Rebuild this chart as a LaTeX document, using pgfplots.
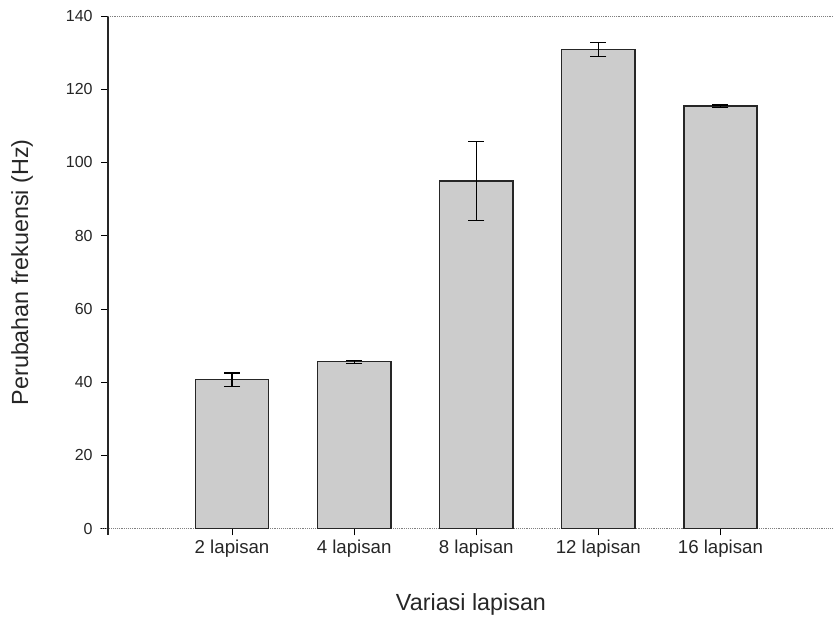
\documentclass[border=0pt]{standalone}
\usepackage{fontspec}
\setmainfont{Liberation Sans}
\usepackage{pgfplots}
\pgfplotsset{compat=1.18}

\pgfplotstableread{
x  y      err
0  40.7   1.8
1  45.6   0.4
2  94.9   10.8
3  130.8  1.9
4  115.4  0.3
}\lapisan

\begin{document}
\begin{tikzpicture}
\useasboundingbox (-81pt,-69.75pt) rectangle (544.5pt,396.5pt);
\begin{axis}[
    scale only axis,
    width=544.5pt,
    height=384.5pt,
    ybar,
    bar width=0.6,
    xmin=-1.016, xmax=4.93,
    ymin=0, ymax=140,
    ytick={0,20,...,140},
    xtick=data,
    xticklabels={2 lapisan, 4 lapisan, 8 lapisan, 12 lapisan, 16 lapisan},
    axis y line*=left,
    axis x line*=bottom,
    y axis line style={line width=1.2pt, black!85, shorten <=-4.5pt},
    x axis line style={gray, densely dotted, thin, shorten <=-6pt},
    tick align=outside,
    ytick style={black, thin},
    xtick style={black, thin},
    major tick length=5pt,
    /pgf/number format/assume math mode=true,
    yticklabel style={font=\fontsize{12}{12}\selectfont, text=black!85, xshift=-3pt},
    xticklabel style={font=\fontsize{14}{14}\selectfont, text=black!85},
    xlabel={Variasi lapisan},
    ylabel={Perubahan frekuensi (Hz)},
    label style={font=\fontsize{17.5}{17.5}\selectfont, text=black!85},
    xlabel style={at={(axis description cs:0.5,-0.148)}, anchor=center},
    ylabel style={at={(axis description cs:-0.1185,0.5)}, anchor=center},
    clip=false,
]
\addplot[
    fill=black!20, draw=black!85, line width=1.1pt,
    error bars/.cd, y dir=both, y explicit,
    error bar style={black, line width=0.9pt},
    error mark options={rotate=90, mark size=6pt, line width=0.9pt, black},
] table[x=x, y=y, y error=err] {\lapisan};
\draw[gray, densely dotted, thin] (rel axis cs:0,1) -- (rel axis cs:1,1);
\end{axis}
\end{tikzpicture}
\end{document}
